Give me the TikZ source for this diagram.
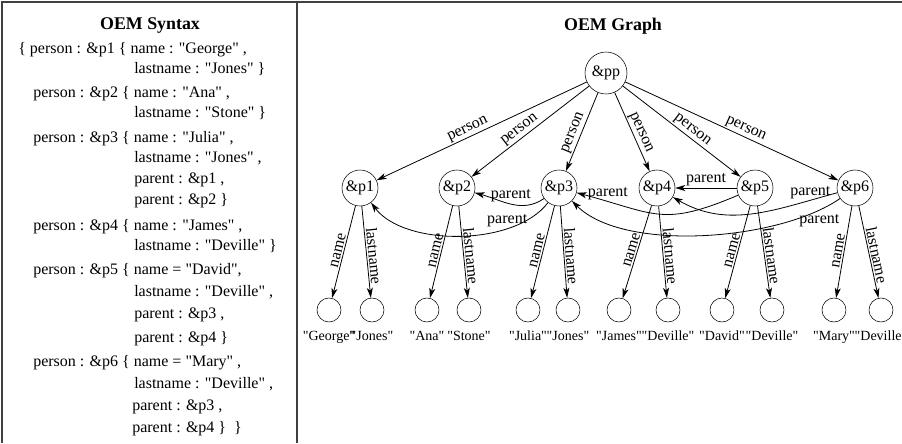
\documentclass[tikz,border=0pt]{standalone}
\usepackage{fontspec}
\setmainfont{Liberation Serif}[Ligatures=TeXOff]
\usetikzlibrary{arrows.meta,positioning}

\begin{document}
\begin{tikzpicture}[x=0.75pt,y=-0.75pt,
    every node/.style={font=\fontsize{12}{14}\selectfont},
    obj/.style={draw,circle,inner sep=0pt,minimum size=27pt},
    atom/.style={draw,circle,inner sep=0pt,minimum size=18pt},
    val/.style={font=\fontsize{10.5}{12}\selectfont,inner sep=1pt},
    src/.style={anchor=base west,inner sep=0pt},
    title/.style={font=\fontsize{13.4}{16}\selectfont\bfseries},
    lbl/.style={inner sep=1pt},
    link/.style={-{Stealth[length=7.5pt,width=4.5pt,inset=2pt]},line width=0.6pt}]
  \useasboundingbox (0,0) rectangle (902,443);
  % frame
  \draw[line width=0.9pt,black!75] (2,443) -- (2,2) -- (902,2);
  \draw[line width=0.9pt,black!75] (297,2) -- (297,443);

  \node[title] (syntax) at (150,26) {OEM Syntax};
  \node[title] (graph) at (613,26) {OEM Graph};

  % OEM syntax, one line per node
  \foreach \x/\y/\txt [count=\i] in {
      18/53/{\{ person : \&p1 \{ name : "George" ,},
      134/73/{lastname : "Jones" \}},
      33/97/{person : \&p2 \{ name : "Ana" ,},
      134/117/{lastname : "Stone" \}},
      33/142/{person : \&p3 \{ name : "Julia" ,},
      134/162/{lastname : "Jones" ,},
      134/183/{parent : \&p1 ,},
      134/204/{parent : \&p2 \}},
      33/230/{person : \&p4 \{ name : "James" ,},
      134/250/{lastname : "Deville" \}},
      33/274/{person : \&p5 \{ name = "David",},
      134/296/{lastname : "Deville" ,},
      134/318/{parent : \&p3 ,},
      134/342/{parent : \&p4 \}},
      33/366/{person : \&p6 \{ name = "Mary" ,},
      134/388/{lastname : "Deville" ,},
      132/410/{parent : \&p3 ,},
      132/432/{parent : \&p4 \}~ \}}}
    \node[src] (s\i) at (\x,\y) {\txt};

  % OEM graph
  \node[obj,minimum size=31.5pt] (pp) at (606,73) {\&pp};
  \foreach \x [count=\i] in {360,457,559,657,755,855}
    \node[obj] (p\i) at (\x,188) {\&p\i};

  \foreach \a/\b/\fname/\lname [count=\i] in {329/372/George/Jones,
      427/469/Ana/Stone, 528/568/Julia/Jones, 619/668/James/Deville,
      722/772/David/Deville, 834/881/Mary/Deville} {
    \node[atom] (n\i) at (\a,310) {};
    \node[atom] (l\i) at (\b,310) {};
    \node[val,below=5.5pt of n\i] (vn\i) {"\fname"};
    \node[val,below=5.5pt of l\i] (vl\i) {"\lname"};
    \draw[link] (pp) -- node[lbl,sloped,above,pos=0.55] {person} (p\i);
    \draw[link] (p\i) -- node[lbl,sloped,above] {name} (n\i);
    \draw[link] (p\i) -- node[lbl,sloped,above,pos=0.55] {lastname} (l\i);
  }

  % parent references
  \draw[link] (p3) to[out=215,in=-15] node[lbl,above] {parent} (p2);
  \draw[link] (p3) to[out=233,in=-53,looseness=0.8] node[lbl,above,pos=0.27] {parent} (p1);
  \draw[link] (p5) -- node[lbl,above] {parent} (p4);
  \draw[link] (p5) to[out=203,in=-15,looseness=1.3] node[lbl,above,pos=0.85] {parent} (p3);
  \draw[link] (p6) to[out=195,in=-30] node[lbl,above,pos=0.15] {parent} (p4);
  \draw[link] (p6) to[out=215,in=-45,looseness=0.7] node[lbl,below=2pt,pos=0.1] {parent} (p3);
\end{tikzpicture}
\end{document}
